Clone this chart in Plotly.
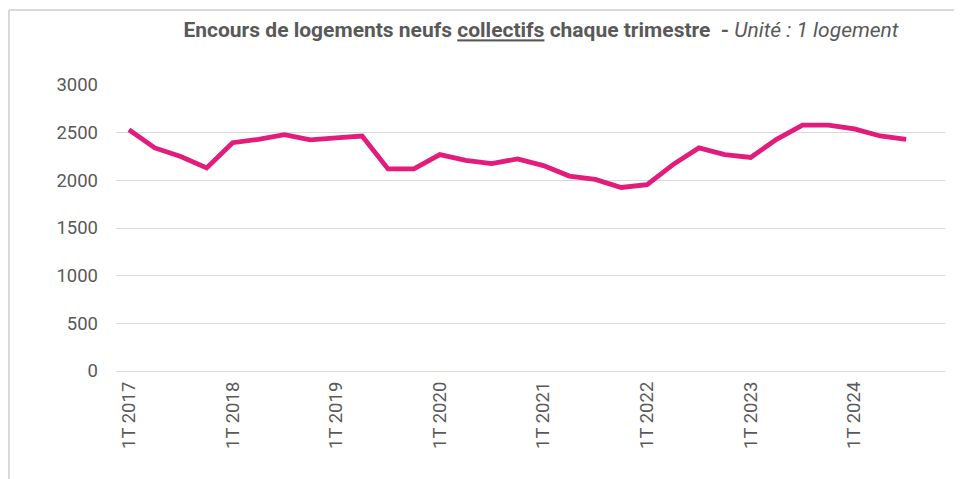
import plotly.graph_objects as go

quarters = [f"{q}T {y}" for y in range(2017, 2025) for q in range(1, 5)]
values = [2530, 2340, 2250, 2130, 2395, 2430, 2480, 2425, 2445, 2465,
          2120, 2120, 2270, 2210, 2175, 2225, 2155, 2045, 2010, 1925,
          1955, 2165, 2340, 2270, 2240, 2430, 2580, 2580, 2540, 2465, 2430]
tick_labels = [quarters[i] for i in range(0, 32, 4)]
y_ticks = [0, 500, 1000, 1500, 2000, 2500, 3000]

# page body has an 8px margin: shift everything up/left by 8px
OFF = 8
W, H = 962 - OFF, 479 - OFF
L, T = 116 - OFF, 85 - OFF
PW, PH = 829, 286
R, B = W - L - PW, H - T - PH

fig = go.Figure()
fig.add_trace(go.Scatter(
    x=list(range(len(values))), y=values, mode="lines",
    line=dict(color="#E31B7B", width=4.8),
    hoverinfo="skip", showlegend=False,
))

fig.update_layout(
    width=W, height=H,
    margin=dict(l=L, r=R, t=T, b=B),
    paper_bgcolor="white", plot_bgcolor="white",
    font=dict(family="Roboto, sans-serif", color="#595959", size=18),
    title=dict(
        text="<b>Encours de logements neufs <u>collectifs</u> chaque trimestre  - </b><i>Unité : 1 logement</i>",
        font=dict(family="Roboto, sans-serif", size=21, color="#595959"),
        xref="container", x=(541 - OFF) / W, xanchor="center",
        yref="container", y=1 - (30 - OFF) / H, yanchor="middle",
    ),
    xaxis=dict(
        range=[-0.5, 31.5], tickmode="array",
        tickvals=list(range(0, 32, 4)), ticktext=tick_labels,
        tickangle=-90, showgrid=False, zeroline=False,
        showline=False, ticks="", ticklabelstandoff=6,
        tickfont=dict(size=18.5, color="#595959"),
    ),
    yaxis=dict(
        range=[0, 3000], tickmode="array", tickvals=y_ticks,
        showgrid=True, gridcolor="#D9D9D9", gridwidth=1.3,
        zeroline=True, zerolinecolor="#D9D9D9", zerolinewidth=1.3,
        showline=False, ticks="", ticklabelstandoff=17,
        tickfont=dict(size=18.5, color="#595959"),
    ),
    shapes=[
        dict(type="line", xref="paper", yref="paper",
             x0=-(L - 1) / PW, x1=1 + 30 / PW, y0=1 + 75 / PH, y1=1 + 75 / PH,
             line=dict(color="#D9D9D9", width=2)),
        dict(type="line", xref="paper", yref="paper",
             x0=-(L - 1) / PW, x1=-(L - 1) / PW, y0=1 + 75 / PH, y1=-120 / PH,
             line=dict(color="#D9D9D9", width=2)),
    ],
)

fig.write_html("out.html")
